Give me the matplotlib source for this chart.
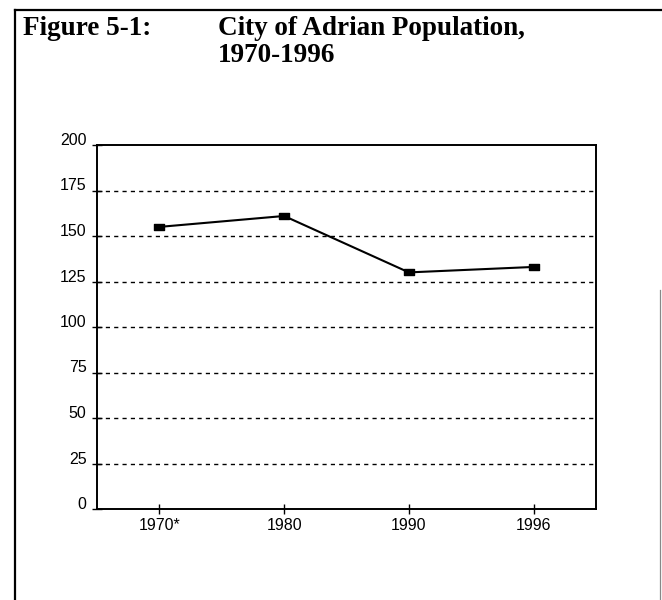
import matplotlib
matplotlib.use("Agg")
import matplotlib.pyplot as plt
from matplotlib.lines import Line2D
from matplotlib.path import Path

categories = ["1970*", "1980", "1990", "1996"]
population = [155, 161, 130, 133]
yticks = [0, 25, 50, 75, 100, 125, 150, 175, 200]
title_left = "Figure 5-1:"
title_lines = ["City of Adrian Population,", "1970-1996"]

W, H = 662, 600
fig = plt.figure(figsize=(W / 100, H / 100), dpi=100)

# outer frame lines (left, top, partial right)
fig.add_artist(Line2D([15 / W, 15 / W], [0, 1 - 10 / H], color="black", lw=1.6))
fig.add_artist(Line2D([15 / W, 1], [1 - 10 / H, 1 - 10 / H], color="black", lw=1.6))
fig.add_artist(Line2D([660 / W, 660 / W], [0, 1 - 290 / H], color="#888888", lw=0.9))

# title, sized so the first title line is ~307 px wide
tfont = dict(family="Liberation Serif", weight="bold")
renderer = fig.canvas.get_renderer()
probe = fig.text(0, 0, title_lines[0], fontsize=20, **tfont)
w20 = probe.get_window_extent(renderer).width
probe.remove()
tsize = 20 * 307 / w20

fig.text(23 / W, 1 - 35 / H, title_left, fontsize=tsize, va="baseline", ha="left", **tfont)
fig.text(218 / W, 1 - 35 / H, title_lines[0], fontsize=tsize, va="baseline", ha="left", **tfont)
fig.text(218 / W, 1 - 62 / H, title_lines[1], fontsize=tsize, va="baseline", ha="left", **tfont)

left, right, top, bottom = 97, 596, 145, 509
ax = fig.add_axes([left / W, 1 - bottom / H, (right - left) / W, (bottom - top) / H])

rect = Path([(-1, -0.72), (1, -0.72), (1, 0.72), (-1, 0.72), (-1, -0.72)],
            [Path.MOVETO, Path.LINETO, Path.LINETO, Path.LINETO, Path.CLOSEPOLY])
x = list(range(len(categories)))
ax.plot(x, population, color="black", lw=1.5, marker=rect, markersize=7,
        markerfacecolor="black", markeredgecolor="black", zorder=3)

ax.set_xlim(-0.5, len(categories) - 0.5)
ax.set_ylim(0, 200)
ax.set_yticks(yticks)
ax.set_yticklabels([str(v) for v in yticks], va="baseline")
ax.set_xticks(x)
ax.set_xticklabels(categories)

for v in yticks[1:-1]:
    ax.axhline(v, color="black", lw=1.0, linestyle=(0, (3, 3)), zorder=1)

for s in ax.spines.values():
    s.set_linewidth(1.4)
    s.set_color("black")

ax.tick_params(axis="both", direction="inout", length=7, width=1, labelsize=11.5, colors="black")
ax.tick_params(axis="y", pad=4)
ax.tick_params(axis="x", pad=3)
for lab in ax.get_xticklabels() + ax.get_yticklabels():
    lab.set_family("Liberation Sans")

fig.savefig("out.png", dpi=100)
